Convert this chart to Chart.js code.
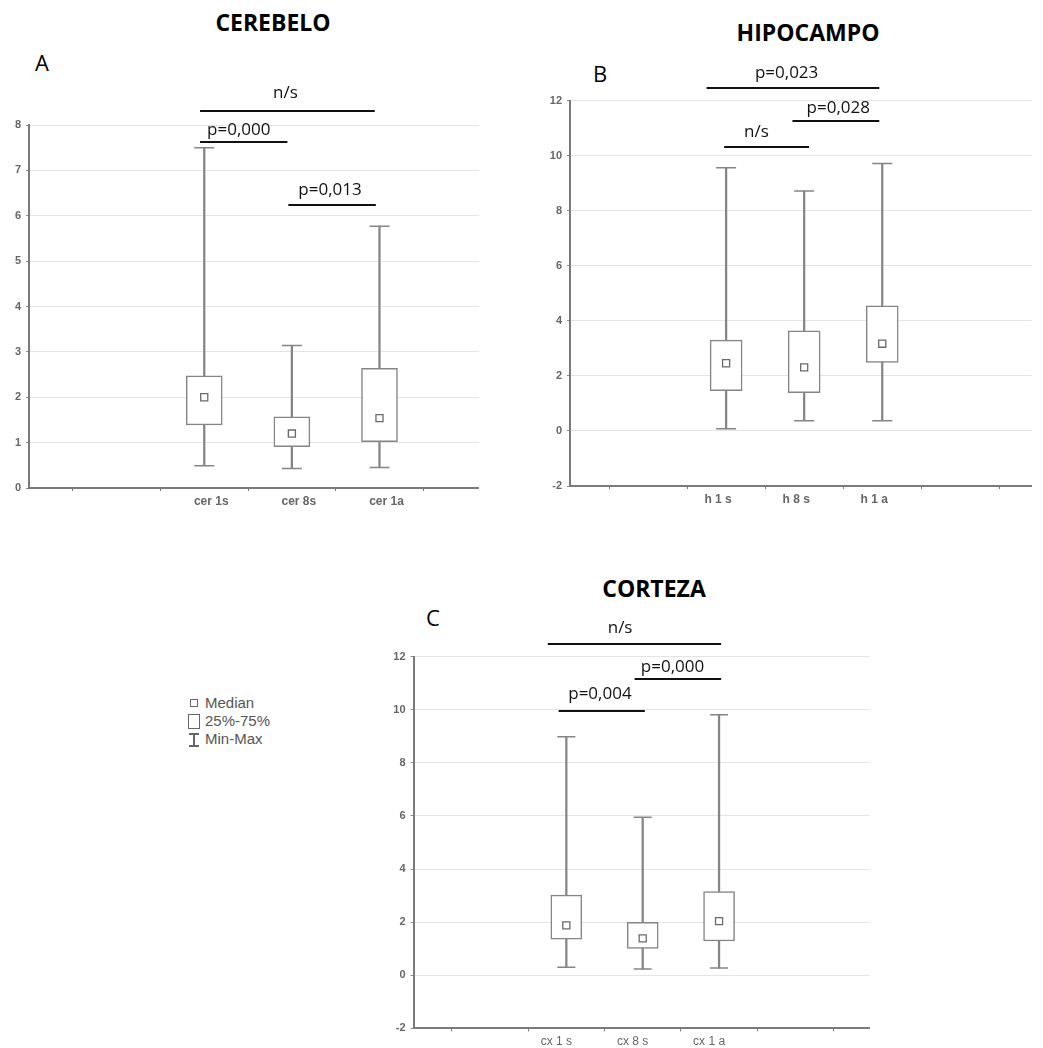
<!DOCTYPE html>
<html><head><meta charset="utf-8">
<script src="https://cdn.jsdelivr.net/npm/chart.js@4.4.0/dist/chart.umd.min.js"></script>
<style>
body{margin:0;background:#fff;width:1043px;height:1048px;overflow:hidden;position:relative;font-family:"Open Sans",sans-serif}
canvas{position:absolute}
.t{position:absolute;font-weight:700;font-size:23px;color:#000;transform:translate(-50%,-50%);white-space:nowrap}
.l{position:absolute;font-size:22px;color:#000;transform:translate(-50%,-50%)}
#leg{position:absolute;left:186px;top:694px;font:15px "Liberation Sans",Arial,sans-serif;color:#555}
#leg div{height:18px;line-height:18px;position:relative;padding-left:19px}
#leg i{position:absolute;display:block;box-sizing:border-box}
</style></head><body>
<div class="t" style="left:273px;top:22px">CEREBELO</div>
<div class="t" style="left:808px;top:32px">HIPOCAMPO</div>
<div class="t" style="left:654px;top:588px">CORTEZA</div>
<div class="l" style="left:42px;top:62px">A</div>
<div class="l" style="left:600px;top:73px">B</div>
<div class="l" style="left:433px;top:617px">C</div>
<div id="leg">
 <div><i style="left:4px;top:5px;width:8px;height:8px;border:1.3px solid #666"></i>Median</div>
 <div><i style="left:2px;top:2px;width:12px;height:15px;border:1.3px solid #666"></i>25%-75%</div>
 <div><i style="left:7px;top:3px;width:1.5px;height:13px;background:#666"></i><i style="left:3px;top:3px;width:10px;height:1.5px;background:#666"></i><i style="left:3px;top:15px;width:10px;height:1.5px;background:#666"></i>Min-Max</div>
</div>
<canvas id="cA" width="490" height="520" style="left:0;top:0"></canvas>
<canvas id="cB" width="523" height="520" style="left:520px;top:0"></canvas>
<canvas id="cC" width="520" height="488" style="left:360px;top:560px"></canvas>
<script>
// ---- Panel A: CEREBELO ----
const catsA = ['cer 1s', 'cer 8s', 'cer 1a'];
const minA = [0.49, 0.43, 0.45];
const q1A  = [1.39, 0.91, 1.02];
const medA = [2.00, 1.20, 1.54];
const q3A  = [2.47, 1.57, 2.64];
const maxA = [7.50, 3.14, 5.77];
const sigA = [
  {x0: 1.952, x1: 3.946, y: 8.315, tx: 2.926, ty: 8.705, text: 'n/s'},
  {x0: 1.952, x1: 2.949, y: 7.632, tx: 2.394, ty: 7.890, text: 'p=0,000'},
  {x0: 2.960, x1: 3.958, y: 6.237, tx: 3.436, ty: 6.567, text: 'p=0,013'}
];
// ---- Panel B: HIPOCAMPO ----
const catsB = ['h 1 s', 'h 8 s', 'h 1 a'];
const minB = [0.08, 0.37, 0.37];
const q1B  = [1.46, 1.39, 2.49];
const medB = [2.46, 2.31, 3.17];
const q3B  = [3.30, 3.64, 4.55];
const maxB = [9.56, 8.72, 9.72];
const sigB = [
  {x0: 1.750, x1: 3.9625, y: 12.45, tx: 2.775, ty: 13.00, text: 'p=0,023'},
  {x0: 2.850, x1: 3.9625, y: 11.26, tx: 3.4375, ty: 11.73, text: 'p=0,028'},
  {x0: 1.975, x1: 3.0625, y: 10.33, tx: 2.3875, ty: 10.86, text: 'n/s'}
];
// ---- Panel C: CORTEZA ----
const catsC = ['cx 1 s', 'cx 8 s', 'cx 1 a'];
const minC = [0.30, 0.23, 0.27];
const q1C  = [1.36, 1.01, 1.29];
const medC = [1.88, 1.39, 2.04];
const q3C  = [3.02, 1.99, 3.15];
const maxC = [8.98, 5.95, 9.81];
const sigC = [
  {x0: 1.757, x1: 4.027, y: 12.47, tx: 2.704, ty: 13.08, text: 'n/s'},
  {x0: 2.894, x1: 4.027, y: 11.15, tx: 3.391, ty: 11.62, text: 'p=0,000'},
  {x0: 1.899, x1: 3.028, y: 9.96, tx: 2.440, ty: 10.59, text: 'p=0,004'}
];

const GREY = '#858585';

const sigPlugin = {
  id: 'sig',
  afterDraw(chart, args, opts) {
    const {ctx, scales: {x, y}} = chart;
    ctx.save();
    (opts.items || []).forEach(s => {
      ctx.strokeStyle = '#111';
      ctx.lineWidth = 2;
      ctx.beginPath();
      const py = Math.round(y.getPixelForValue(s.y));
      ctx.moveTo(x.getPixelForValue(s.x0), py);
      ctx.lineTo(x.getPixelForValue(s.x1), py);
      ctx.stroke();
      ctx.fillStyle = '#111';
      ctx.font = '17px "Open Sans", sans-serif';
      ctx.textAlign = 'center';
      ctx.textBaseline = 'middle';
      ctx.fillText(s.text, x.getPixelForValue(s.tx), y.getPixelForValue(s.ty));
    });
    ctx.restore();
  }
};

function makeChart(id, cats, mn, q1, md, q3, mx, sig, cfg) {
  const pos = cats.map((c, i) => i + 2);
  const pts = arr => arr.map((v, i) => ({x: pos[i], y: v}));
  const rng = (a, b) => a.map((v, i) => ({x: pos[i], y: [v, b[i]]}));
  new Chart(document.getElementById(id), {
    type: 'bar',
    data: {
      datasets: [
        {type: 'scatter', data: pts(md), pointStyle: 'rect', radius: 5, backgroundColor: '#fff',
         borderColor: '#6a6a6a', borderWidth: 1.3, order: 1},
        {type: 'bar', data: rng(q1, q3), barThickness: cfg.box, backgroundColor: '#fff',
         borderColor: GREY, borderWidth: 1.5, borderSkipped: false, grouped: false, order: 2},
        {type: 'scatter', data: pts(mx).concat(pts(mn)), pointStyle: 'line', radius: cfg.cap / 2,
         borderColor: GREY, borderWidth: 1.5, order: 3},
        {type: 'bar', data: rng(mn, mx), barThickness: 1.6, backgroundColor: GREY,
         borderWidth: 0, grouped: false, order: 4}
      ]
    },
    options: {
      responsive: false, animation: false, devicePixelRatio: 1,
      layout: {padding: {top: cfg.top, left: 0, right: cfg.right, bottom: 0}},
      plugins: {legend: {display: false}, tooltip: {enabled: false}, sig: {items: sig}},
      scales: {
        x: {
          type: 'linear', min: 0, max: cfg.xMax, offset: false,
          afterFit: s => { s.height = cfg.xh; },
          grid: {drawOnChartArea: false, drawTicks: true, tickLength: 3, tickColor: '#777'},
          border: {display: true, color: '#7a7a7a', width: 2},
          ticks: {stepSize: 1, includeBounds: false, autoSkip: false, maxRotation: 0,
                  padding: 3, labelOffset: cfg.lo, color: '#666',
                  font: {family: '"Liberation Sans", Arial, sans-serif', size: 12, weight: cfg.xw},
                  callback: v => { const i = v - 2; return (Number.isInteger(v) && i >= 0 && i < cats.length) ? cats[i] : ''; }}
        },
        y: {
          min: cfg.yMin, max: cfg.yMax,
          afterFit: s => { s.width = cfg.yw; },
          grid: {color: '#e4e4e4', lineWidth: 1, tickLength: 3, tickColor: '#888'},
          border: {display: true, color: '#7a7a7a', width: 2},
          ticks: {stepSize: cfg.step, padding: 5, color: '#666',
                  font: {family: '"Liberation Sans", Arial, sans-serif', size: 11, weight: 'bold'}}
        }
      }
    },
    plugins: [sigPlugin]
  });
}

makeChart('cA', catsA, minA, q1A, medA, q3A, maxA, sigA,
  {top: 125, right: 8, xh: 32, yw: 29, xMax: 5.13, yMin: 0, yMax: 8, step: 1, box: 36, cap: 20, lo: 7, xw: 'bold'});
makeChart('cB', catsB, minB, q1B, medB, q3B, maxB, sigB,
  {top: 100.7, right: 0, xh: 34, yw: 50, xMax: 5.9125, yMin: -2, yMax: 12, step: 2, box: 32, cap: 20, lo: -8, xw: 'bold'});
makeChart('cC', catsC, minC, q1C, medC, q3C, maxC, sigC,
  {top: 96.7, right: 6.2, xh: 19.7, yw: 53.6, xMax: 5.97, yMin: -2, yMax: 12, step: 2, box: 31, cap: 18, lo: -10, xw: 'normal'});
</script>
</body></html>
